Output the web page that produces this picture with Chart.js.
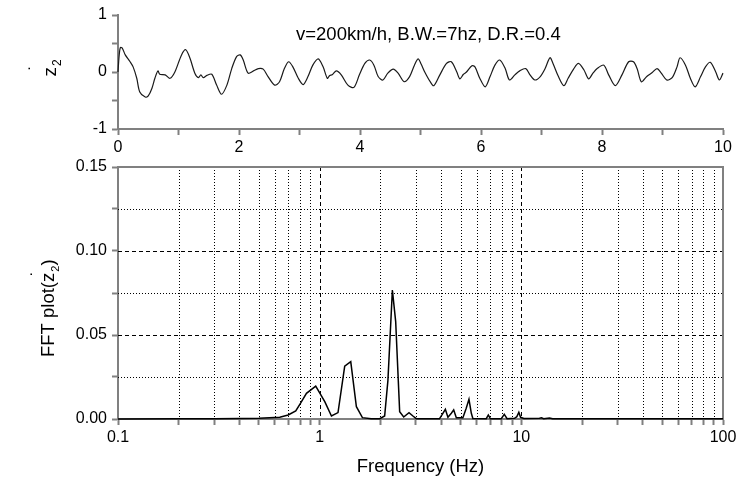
<!DOCTYPE html>
<html><head><meta charset="utf-8">
<script src="https://cdn.jsdelivr.net/npm/chart.js@4.4.1/dist/chart.umd.min.js"></script>
<style>
html,body{margin:0;padding:0;background:#fff;width:752px;height:489px;overflow:hidden;}
#c1{position:absolute;left:0;top:0;}
#c2{position:absolute;left:0;top:150px;}
#note{position:absolute;left:296px;top:24.5px;font:18.5px/18.5px 'Liberation Sans',Arial,sans-serif;color:#000;white-space:nowrap;}
</style></head><body>
<canvas id="c1" width="752" height="160"></canvas>
<canvas id="c2" width="752" height="339"></canvas>
<div id="note">v=200km/h, B.W.=7hz, D.R.=0.4</div>
<script>
// ---- data: time response (top panel) ----
const timeSec = [0.00,0.02,0.04,0.07,0.12,0.20,0.25,0.31,0.36,0.45,0.50,0.56,0.61,0.66,0.69,0.78,0.86,0.94,1.05,1.12,1.19,1.27,1.33,1.37,1.41,1.47,1.55,1.63,1.71,1.80,1.88,1.96,2.02,2.07,2.15,2.24,2.32,2.40,2.48,2.59,2.67,2.75,2.82,2.89,2.98,3.06,3.14,3.22,3.31,3.39,3.46,3.50,3.54,3.61,3.69,3.80,3.90,3.99,4.08,4.16,4.23,4.30,4.38,4.46,4.55,4.63,4.73,4.82,4.90,4.96,5.01,5.07,5.16,5.22,5.32,5.43,5.51,5.60,5.65,5.71,5.76,5.85,5.90,5.98,6.07,6.15,6.23,6.31,6.40,6.47,6.56,6.64,6.74,6.81,6.89,6.98,7.06,7.14,7.19,7.28,7.37,7.44,7.53,7.61,7.70,7.78,7.85,7.92,8.03,8.11,8.22,8.33,8.44,8.52,8.58,8.65,8.74,8.83,8.91,8.98,9.07,9.16,9.24,9.29,9.38,9.46,9.54,9.63,9.71,9.79,9.88,9.94,10.00];
const zDot2 = [0.00,0.30,0.43,0.42,0.30,0.18,0.09,-0.11,-0.35,-0.44,-0.42,-0.29,-0.11,0.02,-0.04,-0.05,-0.11,0.00,0.30,0.39,0.24,-0.02,-0.10,-0.05,-0.10,-0.06,-0.04,-0.23,-0.39,-0.23,0.06,0.27,0.30,0.21,-0.02,0.02,0.06,0.05,-0.08,-0.23,-0.17,0.06,0.18,0.09,-0.11,-0.22,-0.08,0.12,0.23,0.09,-0.11,-0.06,-0.05,0.02,-0.05,-0.23,-0.27,-0.05,0.15,0.21,0.12,-0.08,-0.14,-0.02,0.05,-0.02,-0.17,-0.08,0.12,0.23,0.14,0.00,-0.17,-0.24,-0.05,0.15,0.18,0.00,-0.12,-0.04,0.00,0.11,0.09,-0.11,-0.26,-0.08,0.12,0.21,0.06,-0.14,-0.05,0.02,0.06,-0.05,-0.14,-0.08,0.06,0.25,0.15,-0.08,-0.24,-0.11,0.05,0.15,0.04,-0.12,-0.02,0.06,0.12,-0.05,-0.24,-0.05,0.18,0.18,0.06,-0.17,-0.08,-0.01,0.06,-0.02,-0.14,-0.10,0.09,0.25,0.12,-0.11,-0.26,-0.08,0.09,0.17,0.00,-0.14,-0.02];
const timeTicks = [0,1,2,3,4,5,6,7,8,9,10];
const timeLabels = ['0','','2','','4','','6','','8','','10'];
const zTicks = [-1,-0.5,0,0.5,1];
const zLabels = ['-1','','0','','1'];

// ---- data: FFT (bottom panel) ----
const freqHz = [0.10,0.20,0.30,0.40,0.50,0.634,0.698,0.761,0.803,0.860,0.956,1.06,1.144,1.233,1.331,1.426,1.521,1.629,1.80,1.985,2.10,2.18,2.294,2.382,2.493,2.61,2.773,2.90,3.016,3.93,4.04,4.20,4.325,4.497,4.62,4.76,5.13,5.33,5.50,5.65,5.75,6.70,6.86,7.02,7.95,8.23,8.50,9.25,9.50,9.72,9.91,10.3,12.3,12.6,12.9,13.8,14.3,20,30,50,100];
const fftAmp = [0.0000,0.0001,0.0002,0.0003,0.0005,0.0010,0.0024,0.0048,0.0093,0.0153,0.0196,0.0103,0.0018,0.0038,0.0315,0.0341,0.0073,0.0008,0.0002,0.0002,0.0018,0.0230,0.0768,0.0580,0.0043,0.0012,0.0038,0.0018,0.0002,0.0002,0.0024,0.0058,0.0010,0.0034,0.0054,0.0008,0.0008,0.0064,0.0117,0.0034,0.0003,0.0002,0.0024,0.0002,0.0002,0.0028,0.0002,0.0004,0.0014,0.0040,0.0010,0.0003,0.0004,0.0007,0.0002,0.0006,0.0002,0.0002,0.0001,0.0001,0.0001];
const freqTicks = [0.1,0.2,0.3,0.4,0.5,0.6,0.7,0.8,0.9,1,2,3,4,5,6,7,8,9,10,20,30,40,50,60,70,80,90,100];
const freqLabels = {0.1:'0.1',1:'1',10:'10',100:'100'};
const fftTicks = [0,0.025,0.05,0.075,0.10,0.125,0.15];
const fftLabels = ['0.00','','0.05','','0.10','','0.15'];

const FONT = "'Liberation Sans', Arial, sans-serif";
const AXIS = '#808080';
Chart.defaults.font.family = FONT;
Chart.defaults.color = '#000';

// y-axis title drawn with subscript / dot
const yTitlePlugin = {
  id: 'yTitle',
  afterDraw(chart, args, o) {
    const ctx = chart.ctx;
    ctx.save();
    ctx.translate(o.x, o.y);
    ctx.rotate(-Math.PI / 2);
    ctx.fillStyle = '#000';
    ctx.textBaseline = 'alphabetic';
    ctx.textAlign = 'left';
    ctx.font = o.size + 'px ' + FONT;
    let x = 0;
    if (o.pre) { ctx.fillText(o.pre, x, 0); x += ctx.measureText(o.pre).width; }
    ctx.fillText('z', x, 0);
    const zw = ctx.measureText('z').width;
    ctx.fillText('\u02D9', x + zw * 0.6, o.dotY);
    x += zw;
    ctx.font = Math.round(o.size * 0.62) + 'px ' + FONT;
    ctx.fillText('2', x + 1, o.size * 0.28);
    x += ctx.measureText('2').width + 1;
    ctx.font = o.size + 'px ' + FONT;
    if (o.post) ctx.fillText(o.post, x, 0);
    ctx.restore();
  }
};

const framePlugin = {
  id: 'frame',
  beforeDatasetsDraw(chart, args, o) {
    if (!o.grid) return;
    const {ctx, chartArea: a, scales: {x, y}} = chart;
    ctx.save();
    ctx.strokeStyle = '#000';
    ctx.lineWidth = 1;
    freqTicks.forEach(v => {
      if (v === freqTicks[0] || v === freqTicks[freqTicks.length - 1]) return;
      const dec = Math.abs(Math.log10(v) - Math.round(Math.log10(v))) < 1e-9;
      ctx.setLineDash(dec ? [4, 3] : [1, 2]);
      const px = Math.round(x.getPixelForValue(v)) + 0.5;
      ctx.beginPath(); ctx.moveTo(px, a.top); ctx.lineTo(px, a.bottom); ctx.stroke();
    });
    fftTicks.forEach((v, i) => {
      if (i === 0 || i === fftTicks.length - 1) return;
      ctx.setLineDash(fftLabels[i] ? [4, 3] : [1, 2]);
      const py = Math.round(y.getPixelForValue(v)) + 0.5;
      ctx.beginPath(); ctx.moveTo(a.left, py); ctx.lineTo(a.right, py); ctx.stroke();
    });
    ctx.setLineDash([]);
    ctx.strokeStyle = AXIS;
    ctx.lineWidth = 2;
    ctx.beginPath();
    ctx.moveTo(a.left, a.top); ctx.lineTo(a.right, a.top); ctx.lineTo(a.right, a.bottom);
    ctx.stroke();
    ctx.restore();
  }
};

function axisCommon() {
  return {
    border: {color: AXIS, width: 2},
    grid: {drawOnChartArea: false, drawTicks: true, tickLength: 6, tickColor: AXIS, tickWidth: 2}
  };
}

// ---- top chart ----
new Chart(document.getElementById('c1'), {
  type: 'line',
  data: {datasets: [{
    data: timeSec.map((t, i) => ({x: t, y: zDot2[i]})),
    borderColor: '#1a1a1a', borderWidth: 1.2, pointRadius: 0, tension: 0.3, clip: false
  }]},
  options: {
    responsive: false, animation: false, devicePixelRatio: 1,
    layout: {padding: {left: 0, right: 29, top: 15, bottom: 0}},
    plugins: {legend: {display: false}, tooltip: {enabled: false},
      yTitle: {x: 56, y: 76.5, size: 19, pre: '', post: '', dotY: -14}, frame: {grid: false}},
    scales: {
      x: Object.assign(axisCommon(), {
        type: 'linear', min: 0, max: 10,
        afterBuildTicks: s => { s.ticks = timeTicks.map(v => ({value: v})); },
        afterFit: s => { s.height = 31; },
        ticks: {autoSkip: false, maxRotation: 0, padding: 3, font: {size: 16},
          callback: (v, i) => timeLabels[i]}
      }),
      y: Object.assign(axisCommon(), {
        type: 'linear', min: -1, max: 1,
        afterBuildTicks: s => { s.ticks = zTicks.map(v => ({value: v})); },
        afterFit: s => { s.width = 118; },
        ticks: {autoSkip: false, padding: 5, font: {size: 16},
          callback: (v, i) => zLabels[i]}
      })
    }
  },
  plugins: [yTitlePlugin, framePlugin]
});

// ---- bottom chart ----
new Chart(document.getElementById('c2'), {
  type: 'line',
  data: {datasets: [{
    data: freqHz.map((f, i) => ({x: f, y: fftAmp[i]})),
    borderColor: '#000', borderWidth: 1.5, pointRadius: 0, tension: 0, clip: false
  }]},
  options: {
    responsive: false, animation: false, devicePixelRatio: 1,
    layout: {padding: {left: 0, right: 29, top: 17, bottom: 0}},
    plugins: {legend: {display: false}, tooltip: {enabled: false},
      yTitle: {x: 54, y: 207, size: 18.5, pre: 'FFT plot(', post: ')', dotY: -10}, frame: {grid: true}},
    scales: {
      x: Object.assign(axisCommon(), {
        type: 'logarithmic', min: 0.1, max: 100,
        afterBuildTicks: s => { s.ticks = freqTicks.map(v => ({value: v})); },
        afterFit: s => { s.height = 70; },
        ticks: {autoSkip: false, maxRotation: 0, padding: 3, font: {size: 16},
          callback: (v) => freqLabels[v] || ''},
        title: {display: true, text: 'Frequency (Hz)', font: {size: 18.5}, color: '#000', padding: {top: 0, bottom: 11}}
      }),
      y: Object.assign(axisCommon(), {
        type: 'linear', min: 0, max: 0.15,
        afterBuildTicks: s => { s.ticks = fftTicks.map(v => ({value: v})); },
        afterFit: s => { s.width = 118; },
        ticks: {autoSkip: false, padding: 5, font: {size: 16},
          callback: (v, i) => fftLabels[i]}
      })
    }
  },
  plugins: [yTitlePlugin, framePlugin]
});
</script>
</body></html>
